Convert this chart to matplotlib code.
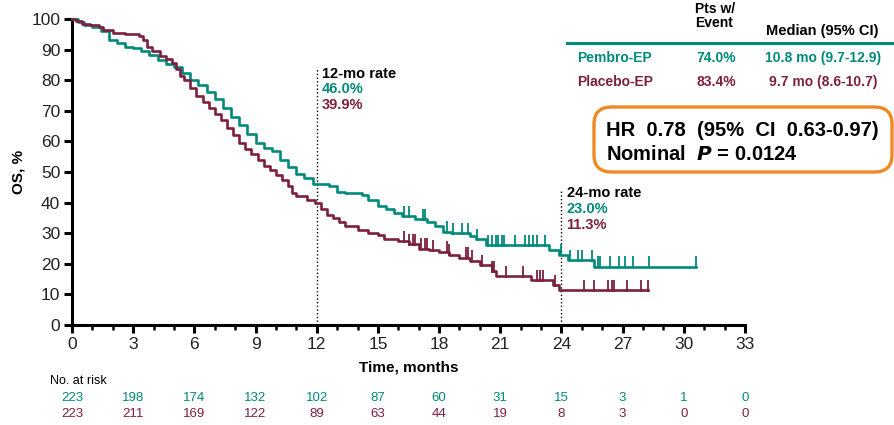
"""Kaplan-Meier OS curves, Pembro-EP vs Placebo-EP."""
import matplotlib
matplotlib.use("Agg")
import matplotlib.pyplot as plt
import numpy as np
from matplotlib.patches import FancyBboxPatch
from matplotlib.ticker import MultipleLocator

TEAL = "#008a7b"
MAROON = "#7d1f3f"

# step curves: time (months) where the survival drops, and the new level (%)
pembro_t = [0, 0.3, 0.6, 1.0, 1.4, 1.8, 2.2, 2.6, 3.0, 3.4, 3.8, 4.2, 4.6, 5.0, 5.4, 5.8,
            6.2, 6.6, 7.0, 7.4, 7.8, 8.2, 8.6, 9.0, 9.4, 9.8, 10.2, 10.6, 11.0, 11.4, 11.8,
            12.6, 13.0, 13.4, 14.2, 14.5, 15.0, 15.4, 15.8, 16.2, 16.8, 17.4, 17.8, 18.2,
            18.6, 19.5, 19.8, 20.3, 23.4, 23.9, 24.3, 25.6]
pembro_s = [100, 99, 98, 97.5, 96, 93, 92, 91, 90.5, 89.7, 88.2, 86.5, 85.2, 84.4, 82.5, 80,
            78.5, 76, 73.8, 71, 68, 65.5, 62.5, 59.5, 58, 57, 54, 51.5, 49.5, 48, 46.0,
            45.5, 43.5, 43, 42.5, 41, 39, 38, 36.5, 35.5, 34.5, 33.5, 32.5, 30.5,
            30, 29, 28, 26.1, 24.5, 23.0, 21.3, 19.1]
pembro_end = 30.6
pembro_cens = [16.3, 16.5, 17.2, 17.3, 18.4, 18.7, 19.1, 19.4, 19.85, 20.4, 20.6, 20.8, 20.9,
               21.1, 21.2, 21.7, 22.2, 22.4, 22.6, 22.8, 23.2, 24.0, 24.4, 24.8, 25.0, 25.5,
               25.8, 25.9, 26.4, 26.8, 27.1, 27.5, 28.3, 30.6]

placebo_t = [0, 0.2, 0.5, 0.9, 1.3, 1.5, 2.0, 2.6, 3.3, 3.5, 3.7, 3.9, 4.3, 4.6, 4.9, 5.1,
             5.3, 5.5, 5.8, 6.1, 6.4, 6.7, 7.0, 7.3, 7.6, 7.9, 8.2, 8.5, 8.8, 9.1, 9.4, 9.7,
             10.0, 10.3, 10.6, 10.8, 11.0, 11.5, 11.9, 12.2, 12.5, 12.8, 13.1, 13.4, 14.0,
             14.5, 15.0, 15.3, 16.0, 16.5, 17.0, 17.5, 18.0, 18.5, 19.0, 19.5, 20.0, 20.6,
             20.8, 22.5, 23.6, 23.9]
placebo_s = [100, 99.5, 98.5, 98, 97.5, 96.5, 95.5, 95, 94.5, 93, 91, 89.5, 88, 87, 85.5, 83.5,
             81.5, 80, 77.5, 75, 73, 71, 69, 67, 64.5, 62, 59.5, 57.5, 56, 54, 52, 50.5,
             49, 47.5, 45.5, 43, 42, 41, 39.9, 38, 36, 35, 33.5, 32.5, 31,
             30, 29.5, 28, 27.5, 26.5, 25, 24.5, 24, 23, 22, 21, 19.6, 17.5,
             16, 14.7, 13, 11.3]
placebo_end = 28.25
placebo_cens = [16.3, 16.5, 16.7, 16.8, 17.1, 17.3, 17.4, 17.7, 18.4, 18.5, 19.3, 19.4, 19.6,
                20.1, 20.6, 20.7, 21.3, 22.1, 22.8, 22.95, 23.1, 23.7, 25.1, 25.6, 26.3, 26.5,
                26.6, 27.2, 27.9, 28.25]

xticks = [0, 3, 6, 9, 12, 15, 18, 21, 24, 27, 30, 33]
risk_pembro = [223, 198, 174, 132, 102, 87, 60, 31, 15, 3, 1, 0]
risk_placebo = [223, 211, 169, 122, 89, 63, 44, 19, 8, 3, 0, 0]

plt.rcParams["font.family"] = ["Liberation Sans", "DejaVu Sans"]

W, H = 894, 425
fig = plt.figure(figsize=(W / 100, H / 100), dpi=100)
ax = fig.add_axes([72 / W, 1 - 325 / H, (745 - 72) / W, (325 - 19) / H])


def fx(px):
    return px / W


def fy(py):
    return 1 - py / H


def km(ax, t, s, end, cens, color):
    tt = np.append(t, end)
    ss = np.append(s, s[-1])
    ax.step(tt, ss, where="post", color=color, lw=1.9, clip_on=False, zorder=3)
    idx = np.searchsorted(t, cens, side="right") - 1
    ax.plot(cens, np.array(s)[idx] + 1.4, ls="none", marker="|", ms=8, mew=1.3,
            color=color, clip_on=False, zorder=3)


km(ax, pembro_t, pembro_s, pembro_end, pembro_cens, TEAL)
km(ax, placebo_t, placebo_s, placebo_end, placebo_cens, MAROON)

ax.set_xlim(0, 33)
ax.set_ylim(0, 100)
ax.set_xticks(xticks)
ax.xaxis.set_minor_locator(MultipleLocator(1))
ax.set_yticks(range(0, 101, 10))
for side in ("top", "right"):
    ax.spines[side].set_visible(False)
for side in ("left", "bottom"):
    ax.spines[side].set_linewidth(2.2)
ax.tick_params(axis="both", which="major", length=5.5, width=2.2, labelsize=12.5,
               labelcolor="#222222", pad=3)
ax.tick_params(axis="x", which="minor", length=3.5, width=1.8)
ax.set_ylabel("OS, %", fontsize=11, fontweight="bold", labelpad=4)
ax.set_xlabel("Time, months", fontsize=11, fontweight="bold", labelpad=6)

# landmark lines
ax.plot([12, 12], [0, 84], ls=":", color="black", lw=1, zorder=2)
ax.plot([24, 24], [0, 44], ls=":", color="black", lw=1, zorder=2)
ax.text(12.25, 82, "12-mo rate", fontsize=10.5, fontweight="bold", va="center")
ax.text(12.25, 77, "46.0%", fontsize=10.5, fontweight="bold", color=TEAL, va="center")
ax.text(12.25, 72, "39.9%", fontsize=10.5, fontweight="bold", color=MAROON, va="center")
ax.text(24.25, 43, "24-mo rate", fontsize=10.5, fontweight="bold", va="center")
ax.text(24.25, 38, "23.0%", fontsize=10.5, fontweight="bold", color=TEAL, va="center")
ax.text(24.25, 32.8, "11.3%", fontsize=10.5, fontweight="bold", color=MAROON, va="center")

# number at risk
fig.text(fx(50), fy(381), "No. at risk", fontsize=9, va="center")
for x, a, b in zip(xticks, risk_pembro, risk_placebo):
    px = ax.transData.transform((x, 0))[0] / W
    fig.text(px, fy(398), str(a), fontsize=9.5, color=TEAL, ha="center", va="center")
    fig.text(px, fy(414), str(b), fontsize=9.5, color=MAROON, ha="center", va="center")

# median table
fig.text(fx(695), fy(16), "Pts w/\nEvent", fontsize=10, fontweight="bold",
         ha="left", va="center", linespacing=0.95)
fig.text(fx(822), fy(31), "Median (95% CI)", fontsize=10.5, fontweight="bold",
         ha="center", va="center")
fig.add_artist(plt.Line2D([fx(567), fx(893)], [fy(43), fy(43)], color=TEAL, lw=2.2))
fig.text(fx(577), fy(58), "Pembro-EP", fontsize=10, fontweight="bold", color=TEAL, va="center")
fig.text(fx(716), fy(58), "74.0%", fontsize=10, fontweight="bold", color=TEAL,
         ha="center", va="center")
fig.text(fx(823), fy(58), "10.8 mo (9.7-12.9)", fontsize=10, fontweight="bold", color=TEAL,
         ha="center", va="center")
fig.text(fx(577), fy(82), "Placebo-EP", fontsize=10, fontweight="bold", color=MAROON,
         va="center")
fig.text(fx(716), fy(82), "83.4%", fontsize=10, fontweight="bold", color=MAROON,
         ha="center", va="center")
fig.text(fx(823), fy(82), "9.7 mo (8.6-10.7)", fontsize=10, fontweight="bold", color=MAROON,
         ha="center", va="center")

# HR box
box = FancyBboxPatch((fx(594), fy(172)), fx(298), fy(107) - fy(172),
                     boxstyle="round,pad=0,rounding_size=0.02", transform=fig.transFigure,
                     facecolor="white", edgecolor="#f08a24", lw=2.4, mutation_aspect=2)
fig.add_artist(box)
fig.text(fx(606), fy(130), "HR  0.78  (95%  CI  0.63-0.97)", fontsize=14.5,
         fontweight="bold", va="center")
fig.text(fx(606), fy(154), r"Nominal  $\bfit{P}$ = 0.0124", fontsize=14.5,
         fontweight="bold", va="center")

fig.savefig("out.png", dpi=100)
